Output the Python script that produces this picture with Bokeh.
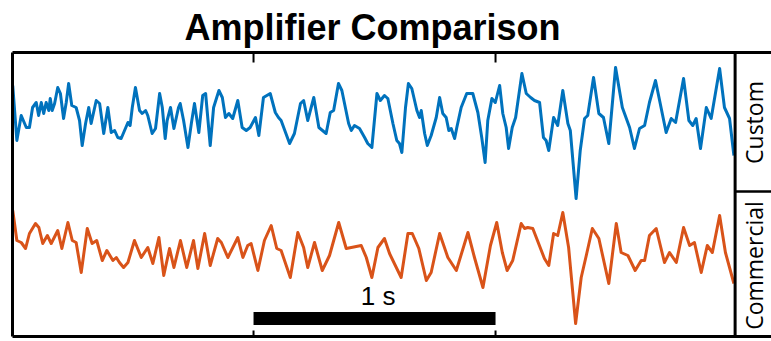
import math
from bokeh.plotting import figure
from bokeh.models import Range1d, LinearAxis, FixedTicker, Span, Label
from bokeh.embed import file_html
from bokeh.resources import INLINE

# ---- data (time in s, amplitude in uV) ----
custom_t = [0.005, 0.022, 0.040, 0.061, 0.074, 0.087, 0.102, 0.112, 0.123, 0.133, 0.143, 0.154, 0.160, 0.168,
            0.178, 0.191, 0.202, 0.215, 0.226, 0.236, 0.249, 0.267, 0.281, 0.292, 0.306, 0.319, 0.329, 0.350,
            0.364, 0.381, 0.398, 0.412, 0.426, 0.439, 0.453, 0.467, 0.481, 0.490, 0.499, 0.512, 0.529, 0.540,
            0.554, 0.563, 0.581, 0.595, 0.612, 0.623, 0.635, 0.643, 0.657, 0.671, 0.690, 0.697, 0.711, 0.729,
            0.743, 0.756, 0.774, 0.790, 0.802, 0.821, 0.835, 0.857, 0.871, 0.884, 0.898, 0.914, 0.935, 0.953,
            0.970, 0.986, 1.008, 1.022, 1.041, 1.069, 1.090, 1.103, 1.114, 1.149, 1.169, 1.194, 1.207, 1.224,
            1.249, 1.270, 1.300, 1.317, 1.331, 1.351, 1.365, 1.393, 1.404, 1.417, 1.438, 1.459, 1.472, 1.489,
            1.510, 1.524, 1.541, 1.555, 1.576, 1.592, 1.603, 1.613, 1.628, 1.640, 1.654, 1.675, 1.686, 1.693,
            1.707, 1.718, 1.734, 1.755, 1.769, 1.782, 1.796, 1.807, 1.817, 1.831, 1.840, 1.858, 1.881, 1.906,
            1.927, 1.943, 1.957, 1.968, 1.985, 1.999, 2.017, 2.030, 2.044, 2.054, 2.069, 2.083, 2.109, 2.127,
            2.145, 2.161, 2.182, 2.198, 2.209, 2.220, 2.240, 2.257, 2.278, 2.299, 2.309, 2.333, 2.350, 2.368,
            2.381, 2.405, 2.427, 2.446, 2.468, 2.496, 2.524, 2.554, 2.574, 2.595, 2.616, 2.636, 2.661, 2.678,
            2.705, 2.726, 2.744, 2.777, 2.799, 2.815, 2.829, 2.847, 2.871, 2.891, 2.926, 2.946, 2.967, 2.985]
custom_v = [35, -20, 5, -7, -7, 13, 18, 5, 18, 7, 18, 10, 22, 10,
            17, 33, 27, 2, 18, 37, 15, 13, 0, -25, -3, 13, -3, 20,
            17, -13, 13, -12, -10, -17, -18, -10, -2, -5, 13, 33, 10, 7,
            10, 5, -13, -8, 27, 13, -18, 0, 13, -8, 13, 17, 0, -27,
            -3, 17, -12, 25, 27, -25, 13, 30, 23, 3, 7, 2, 20, -7,
            -10, -7, 3, -15, 23, 27, 8, 3, 0, -23, -13, 17, 20, 0,
            23, -7, -13, 8, 10, 37, 30, -3, -10, -5, -8, -17, -23, -27,
            27, 20, 25, 22, -3, -20, -23, -32, 13, 37, 32, 10, 3, 10,
            -13, -25, -15, 3, 23, 7, 3, -10, -8, -18, -7, 13, 27, 27,
            8, -17, -42, 0, 22, 18, 35, 7, -7, -28, -7, 3, 47, 27,
            23, 20, 18, -17, -20, -30, 3, -5, 30, -3, -10, -78, -30, 2,
            5, 43, 7, 3, -23, 53, 13, -7, -28, -8, -5, 18, 40, 20,
            -12, 2, -2, 42, 0, -5, 2, -28, 13, 2, 52, 13, 2, -35]

commercial_t = [0.005, 0.022, 0.040, 0.058, 0.074, 0.099, 0.113, 0.129, 0.148, 0.164, 0.191, 0.208, 0.233, 0.251,
                0.267, 0.288, 0.313, 0.333, 0.352, 0.375, 0.394, 0.419, 0.433, 0.446, 0.463, 0.481, 0.508, 0.536,
                0.563, 0.584, 0.609, 0.629, 0.653, 0.671, 0.698, 0.724, 0.752, 0.770, 0.798, 0.821, 0.852, 0.867,
                0.894, 0.935, 0.956, 0.976, 0.990, 1.018, 1.045, 1.073, 1.096, 1.114, 1.152, 1.183, 1.207, 1.224,
                1.252, 1.284, 1.314, 1.352, 1.383, 1.404, 1.445, 1.466, 1.489, 1.514, 1.541, 1.562, 1.610, 1.638,
                1.656, 1.683, 1.714, 1.734, 1.769, 1.803, 1.838, 1.886, 1.913, 1.948, 1.979, 2.005, 2.028, 2.048,
                2.071, 2.106, 2.120, 2.133, 2.154, 2.202, 2.220, 2.240, 2.257, 2.278, 2.302, 2.331, 2.354, 2.375,
                2.400, 2.427, 2.468, 2.499, 2.519, 2.547, 2.577, 2.602, 2.616, 2.636, 2.664, 2.698, 2.719, 2.747,
                2.777, 2.802, 2.822, 2.850, 2.875, 2.896, 2.926, 2.950, 2.985]
commercial_v = [45, 15, 13, 7, 22, 32, 28, 12, 20, 12, 25, 7, 33, 15,
                13, -17, 27, 12, 15, -5, 5, -5, -2, -7, -12, -7, 15, -2,
                8, -8, 18, -20, 7, -12, 15, -12, 15, -13, 22, -10, 17, 13,
                -2, 18, -2, 10, 12, -15, 15, 30, 7, 5, -22, 23, 8, -12,
                13, -15, 0, 33, 7, 8, 10, -2, -22, 8, 17, 2, -22, 22,
                22, 7, -25, -17, 22, -2, -15, 23, -2, -32, 10, 33, 3, -15,
                -5, 32, 27, 28, 27, -3, -10, 22, 20, 43, 8, -68, -22, 0,
                27, 17, -28, 32, 3, 0, -15, -5, -5, 20, 27, -7, 3, -7,
                28, 10, 13, -17, 10, 3, 40, 3, -28]

channel_names = ["Custom", "Commercial"]
time_ticks = [1, 2]
scale_bar = [1, 2]
scale_label = "1 s"
title_text = "Amplifier Comparison"

BLUE = "#0072BD"
ORANGE = "#D95319"

X0 = 0.004
X1 = X0 + 759 / 242.0
Y_TOP = 284
CUSTOM_OFF = 216
COMMERCIAL_OFF = 81

p = figure(width=771, height=341, output_backend="svg", toolbar_location=None,
           x_axis_location=None, y_axis_location=None,
           min_border_left=12, min_border_right=0, min_border_top=52, min_border_bottom=5,
           x_range=Range1d(X0, X1), y_range=Range1d(0, Y_TOP))
p.outline_line_color = None
p.xgrid.visible = False
p.ygrid.visible = False
p.background_fill_color = "white"

def border_axis(loc):
    ax = LinearAxis(ticker=FixedTicker(ticks=[], minor_ticks=[]))
    ax.axis_line_width = 3
    ax.axis_line_color = "black"
    ax.major_tick_line_color = None
    ax.minor_tick_line_color = None
    ax.major_label_standoff = 0
    p.add_layout(ax, loc)
    return ax

border_axis("above")
border_axis("below")
border_axis("left")

# time ticks (inward, on top and bottom borders)
p.segment(x0=time_ticks, x1=time_ticks, y0=[Y_TOP] * 2, y1=[Y_TOP - 10] * 2, line_color="black", line_width=2)
p.segment(x0=time_ticks, x1=time_ticks, y0=[0] * 2, y1=[6] * 2, line_color="black", line_width=2)

p.line(custom_t, [v + CUSTOM_OFF for v in custom_v], line_color=BLUE, line_width=3,
       line_join="round")
p.line(commercial_t, [v + COMMERCIAL_OFF for v in commercial_v], line_color=ORANGE,
       line_width=3, line_join="round")

# separator between traces and channel-name panel
p.add_layout(Span(location=2.99, dimension="height", line_color="black", line_width=3))
p.segment(x0=[2.99], x1=[X1 + 0.1], y0=[145], y1=[145], line_color="black", line_width=2.5)

for name, yc in zip(channel_names, [214, 71]):
    p.add_layout(Label(x=3.068, y=yc, text=name, angle=math.pi / 2, text_align="center",
                       text_baseline="middle", text_font="Open Sans", text_font_size="23px",
                       text_color="black"))

# scale bar
p.segment(x0=[scale_bar[0]], x1=[scale_bar[1]], y0=[18], y1=[18], line_color="black",
          line_width=13, line_cap="butt")
p.add_layout(Label(x=1.515, y=26, text=scale_label, text_align="center", text_baseline="bottom",
                   text_font="Liberation Sans", text_font_size="26px", text_color="black"))

p.title.text = title_text
p.title.text_font = "Liberation Sans"
p.title.text_font_style = "bold"
p.title.text_font_size = "36px"
p.title.text_color = "black"
p.title.align = "left"
p.title.offset = 172
p.title.standoff = 9

open("out.html", "w").write(file_html(p, INLINE))
